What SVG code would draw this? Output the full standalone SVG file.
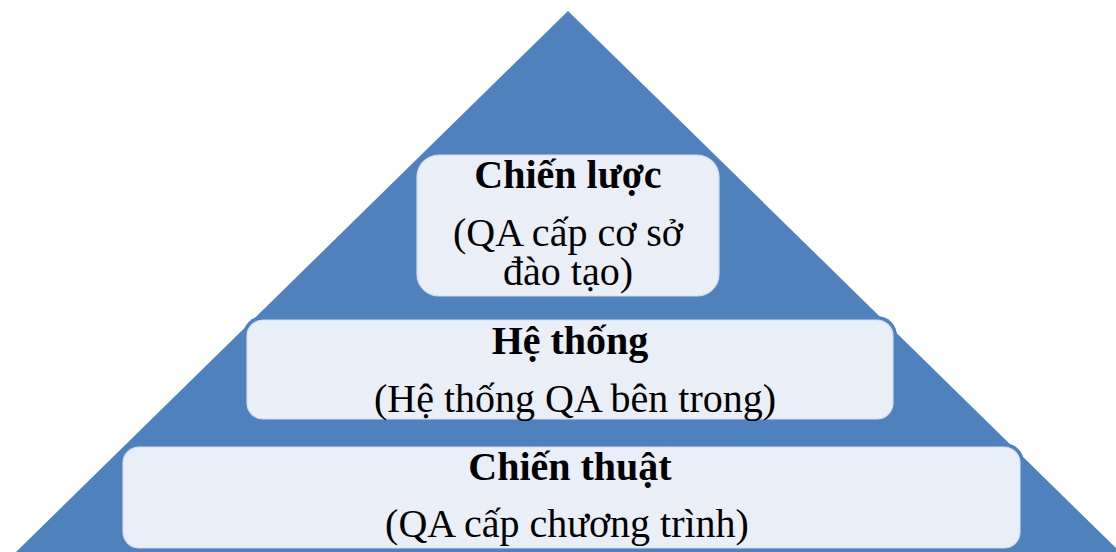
<svg xmlns="http://www.w3.org/2000/svg" width="1116" height="552" viewBox="0 0 1116 552">
<style>
.halo{fill:#4F81BD}
.box{fill:#EAEEF6;stroke:#D3DDEC;stroke-width:1.2}
.t{font-family:"Liberation Serif","Times New Roman",serif;font-size:40px;fill:#000;text-anchor:middle}
.b{font-weight:bold}
</style>
<rect width="1116" height="552" fill="#FFFFFF"/>
<g id="pyramid">
<polygon points="568,11 16,552 1120,552" fill="#4F81BD"/>
</g>
<g id="node-chien-luoc">
<rect class="halo" x="413" y="151" width="310" height="149" rx="26"/>
<rect class="box" x="417" y="155" width="302" height="141" rx="22"/>
<text class="t b" x="568" y="188">Chiến lược</text>
<text class="t" x="568" y="246">(QA cấp cơ sở</text>
<text class="t" x="568" y="285">đào tạo)</text>
</g>
<g id="node-he-thong">
<rect class="halo" x="243" y="316" width="654" height="107" rx="20"/>
<rect class="box" x="247" y="320" width="646" height="99" rx="16"/>
<text class="t b" x="570" y="354">Hệ thống</text>
<text class="t" x="575" y="412">(Hệ thống QA bên trong)</text>
</g>
<g id="node-chien-thuat">
<rect class="halo" x="119" y="443" width="905" height="111" rx="20"/>
<rect class="box" x="123" y="447" width="897" height="101" rx="16"/>
<text class="t b" x="570" y="480">Chiến thuật</text>
<text class="t" x="567" y="537">(QA cấp chương trình)</text>
</g>
<g id="connectors"></g>
</svg>
